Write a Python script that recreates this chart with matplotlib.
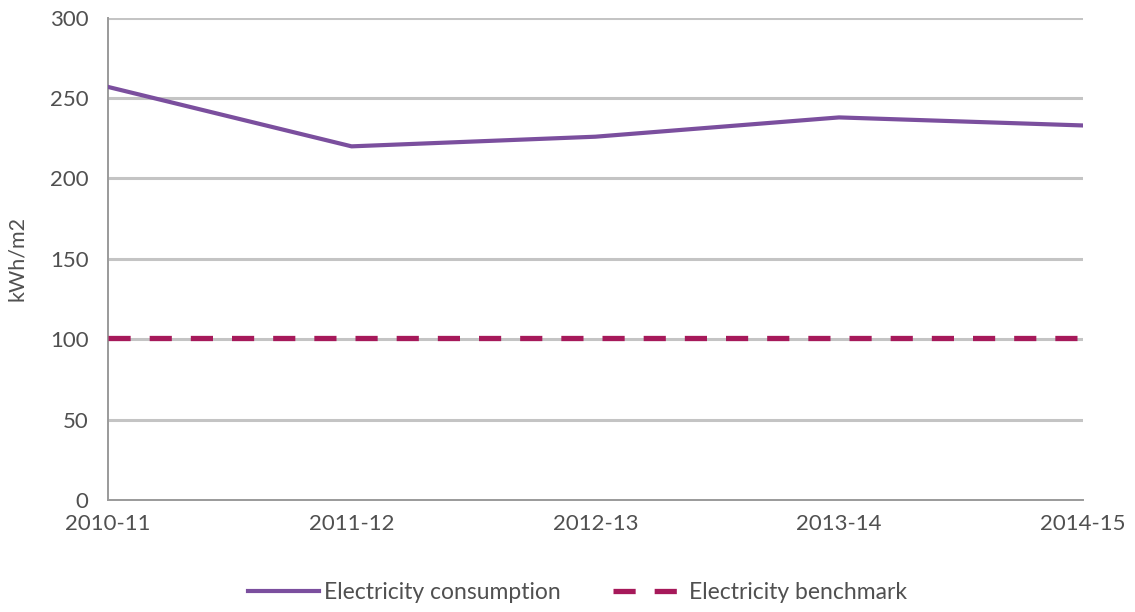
import matplotlib
matplotlib.use("Agg")
import matplotlib.pyplot as plt

# data
years = ["2010-11", "2011-12", "2012-13", "2013-14", "2014-15"]
consumption = [257, 220, 226, 238, 233]
benchmark = [101, 101, 101, 101, 101]
y_ticks = [0, 50, 100, 150, 200, 250, 300]

plt.rcParams['font.family'] = ['Lato', 'DejaVu Sans']
TXT = '#505050'

fig = plt.figure(figsize=(11.35, 6.12), dpi=100)
ax = fig.add_axes([0.095, 0.183, 0.859, 0.788])

x = list(range(len(years)))
for t in y_ticks[1:]:
    ax.axhline(t, color='#c4c4c4', lw=2.2, zorder=1)

ax.plot(x, consumption, color='#7b4f9e', lw=3, solid_joinstyle='round',
        label='Electricity consumption', zorder=3)
ax.plot(x, benchmark, color='#a6195a', lw=3.8, dashes=(4.2, 3.6),
        label='Electricity benchmark', zorder=3)

ax.set_xlim(0, len(years) - 1)
ax.set_ylim(0, 300)
ax.set_xticks(x)
ax.set_xticklabels(years)
ax.set_yticks(y_ticks)
ax.tick_params(length=0, labelsize=16, colors=TXT)
ax.tick_params(axis='y', pad=14)
ax.tick_params(axis='x', pad=10)

for s in ['top', 'right']:
    ax.spines[s].set_visible(False)
for s in ['left', 'bottom']:
    ax.spines[s].set_color('#9a9a9a')
    ax.spines[s].set_linewidth(1.4)

ax.set_ylabel('kWh/m2', fontsize=15.5, color=TXT)
ax.yaxis.set_label_coords(-0.083, 0.5)

leg = fig.legend(loc='center', bbox_to_anchor=(0.509, 0.032), ncol=2,
                 frameon=False, fontsize=16.5, handlelength=3.1,
                 handletextpad=0.2, columnspacing=2.3)
for t in leg.get_texts():
    t.set_color(TXT)

fig.savefig('out.png', dpi=100)
